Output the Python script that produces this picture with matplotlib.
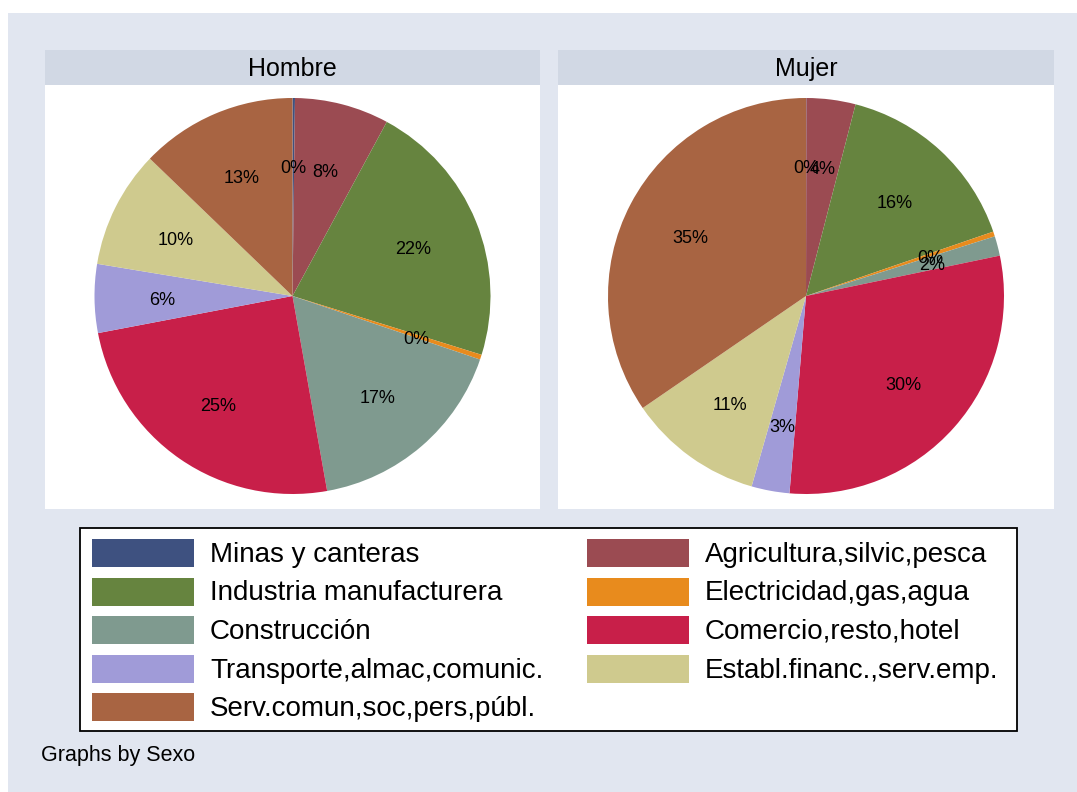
import matplotlib
matplotlib.use("Agg")
import matplotlib.pyplot as plt
from matplotlib.patches import Rectangle

plt.rcParams['font.family'] = ['Liberation Sans', 'DejaVu Sans']

categories = ["Minas y canteras", "Agricultura,silvic,pesca", "Industria manufacturera",
              "Electricidad,gas,agua", "Construcción", "Comercio,resto,hotel",
              "Transporte,almac,comunic.", "Establ.financ.,serv.emp.",
              "Serv.comun,soc,pers,públ."]
colors = ["#3e5180", "#9b4b52", "#66843f", "#e88b1d", "#7f9a8f", "#c81f49",
          "#a09bd8", "#cfca8e", "#a86442"]
panels = ["Hombre", "Mujer"]
hombre = [0.2, 7.7, 21.9, 0.4, 17.0, 24.8, 5.6, 9.6, 12.8]
mujer = [0.03, 4.0, 15.7, 0.4, 1.6, 29.6, 3.1, 11.0, 34.57]
footnote = "Graphs by Sexo"

W, H = 1077, 792
fig = plt.figure(figsize=(W / 100, H / 100), dpi=100, facecolor="white")


def rect_fig(x0, y0, x1, y1):
    """pixel box (top-left origin) -> figure fraction [l, b, w, h]"""
    return [x0 / W, 1 - y1 / H, (x1 - x0) / W, (y1 - y0) / H]


def add_rect(x0, y0, x1, y1, zorder=-1, **kw):
    l, b, w, h = rect_fig(x0, y0, x1, y1)
    fig.add_artist(Rectangle((l, b), w, h, transform=fig.transFigure,
                             zorder=zorder, **kw))


# outer background
add_rect(8, 13, W, H, facecolor="#e1e6f0", edgecolor="none", zorder=-3)

panel_x = [(45, 540), (558, 1054)]
for (x0, x1), name, vals in zip(panel_x, panels, [hombre, mujer]):
    # strip
    add_rect(x0, 50, x1, 85, facecolor="#d1d8e4", edgecolor="none", zorder=-2)
    fig.text((x0 + x1) / 2 / W, 1 - 76 / H, name, ha="center", va="baseline",
             fontsize=18, color="black")
    # white plot region
    add_rect(x0, 85, x1, 509, facecolor="white", edgecolor="none", zorder=-2)
    ax = fig.add_axes(rect_fig(x0, 85, x1, 509))
    ax.set_axis_off()
    w = x1 - x0
    wedges, texts, autotexts = ax.pie(
        vals, colors=colors, startangle=90, counterclock=False, radius=198,
        center=(0, 1), autopct=lambda p: f"{p:.0f}%", pctdistance=0.66,
        wedgeprops=dict(linewidth=0),
        textprops=dict(fontsize=13, color="black"))
    for t in autotexts:
        x, y = t.get_position()
        t.set_position((x, y - 3))
    ax.set_aspect("auto")
    ax.set_xlim(-w / 2, w / 2)
    ax.set_ylim(-212, 212)

# legend
add_rect(80, 528, 1017, 731, facecolor="white", edgecolor="black", linewidth=1.3, zorder=-2)
lax = fig.add_axes(rect_fig(80, 528, 1017, 731))
lax.set_axis_off()
lax.set_xlim(80, 1017)
lax.set_ylim(731, 528)
col_x = [92, 587]
row_y = [553, 591.5, 630, 668.5, 707]
for i, (cat, c) in enumerate(zip(categories, colors)):
    col = i % 2
    row = i // 2
    sx = col_x[col]
    yc = row_y[row]
    lax.add_patch(Rectangle((sx, yc - 14), 102, 28, facecolor=c, edgecolor="none"))
    lax.text(sx + 118, yc + 2, cat, ha="left", va="center", fontsize=20, color="black")

fig.text(41 / W, 1 - 755 / H, footnote, ha="left", va="center", fontsize=15.5)

fig.savefig("out.png", dpi=100, facecolor="white")
